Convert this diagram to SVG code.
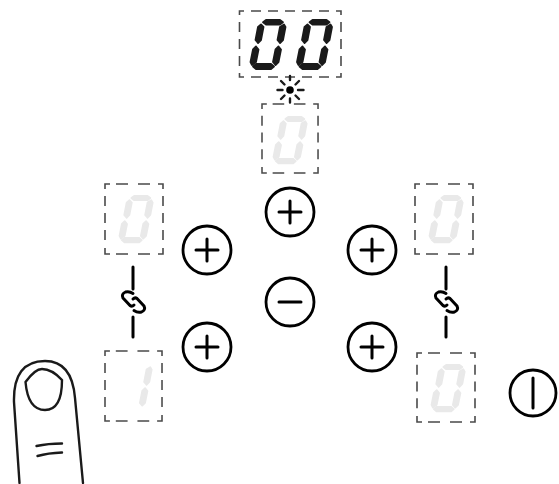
<svg xmlns="http://www.w3.org/2000/svg" xmlns:xlink="http://www.w3.org/1999/xlink" width="559" height="484" viewBox="0 0 559 484">
<style>
.box{fill:none;stroke:#4a4a4a;stroke-width:1.6}
.btn{fill:#fff;stroke:#000;stroke-width:2.8}
.sym{fill:none;stroke:#000;stroke-width:3;stroke-linecap:round}
.ink{fill:none;stroke:#1a1a1a;stroke-width:2.4;stroke-linecap:round;stroke-linejoin:round}
.chain{fill:none;stroke:#000;stroke-width:3;stroke-linecap:round;stroke-linejoin:round}
.on{fill:#1a1a1a;stroke:#1a1a1a;stroke-width:1.8;stroke-linejoin:round}
.off{fill:#e9e9e9;stroke:#e9e9e9;stroke-width:1.8;stroke-linejoin:round}
</style>
<defs>
<path id="seg-a" d="M13 3.200L16 1L30 1L33 3.200L30 5.500L16 5.500Z"/>
<path id="seg-b" d="M34 5.500L35.500 8L33 21L30 24L27.500 21L30 8Z"/>
<path id="seg-c" d="M28.500 27.500L31 30.500L28.500 43L25.500 46L23 43L25.500 30.500Z"/>
<path id="seg-d" d="M3 47.500L6 45L21 45L24 47.500L21 50L6 50Z"/>
<path id="seg-e" d="M6 27.500L8.500 30.500L6 43L2 46L.5 43L3 30.500Z"/>
<path id="seg-f" d="M11 5.500L13.500 8L11 21L8 24L5.500 21L8 8Z"/>
<g id="zero"><use xlink:href="#seg-a"/><use xlink:href="#seg-b"/><use xlink:href="#seg-c"/><use xlink:href="#seg-d"/><use xlink:href="#seg-e"/><use xlink:href="#seg-f"/></g>
<g id="one"><use xlink:href="#seg-b"/><use xlink:href="#seg-c"/></g>
<path id="frame" class="box" d="M0 5V0H5M11 0H23M33 0H45M53 0H58V5M58 12V22M58 29V39M58 46V56M58 64V70H53M45 70H33M23 70H11M5 70H0V64M0 56V46M0 39V29M0 22V12"/>
<g id="link"><path class="chain" d="M-.5 -8.500Q-4 -11 -8 -10Q-12.500 -8 -10.500 -4L-3.500 3.500Q-1.500 5 .5 3"/><path class="chain" d="M.5 8.500Q4 11 8 10Q12.500 8 10.500 4L3.500 -3.500Q1.500 -5 -.5 -3"/></g>
</defs>

<g id="connectors">
<path class="sym" d="M133 267V289M133 317V337M446 267V289M446 317V337"/>
<use xlink:href="#link" transform="translate(133.500 302)"/>
<use xlink:href="#link" transform="translate(446.500 302)"/>
</g>

<g id="display-main">
<path class="box" d="M239.500 15V11H244M251 11H261M268 11H278M285 11H295M302 11H312M319 11H329M336 11H341V15M341 22V32M341 39V49M341 56V66M341 73V77H336M329 77H319M312 77H302M295 77H285M278 77H268M261 77H251M244 77H239.500V73M239.500 66V56M239.500 49V39M239.500 32V22"/>
<use class="on" xlink:href="#zero" transform="translate(250 19)"/>
<use class="on" xlink:href="#zero" transform="translate(296.500 19)"/>
</g>
<g id="indicator">
<circle cx="290" cy="90" r="3.800" fill="#000"/>
<path class="ink" d="M290 76V80M290 98.500V102.500M277.500 90H282.500M298 90H303.500M281 81L284.500 84.500M295.500 95.500L299 99M299 81L295.500 84.500M284.500 95.500L281 99"/>
</g>
<g id="display-top">
<use xlink:href="#frame" transform="translate(262 104) scale(.966 .986)"/>
<use class="off" xlink:href="#zero" transform="translate(273 116) scale(.95)"/>
</g>
<g id="display-left-top">
<use xlink:href="#frame" transform="translate(105 184)"/>
<use class="off" xlink:href="#zero" transform="translate(119 195) scale(.95)"/>
</g>
<g id="display-right-top">
<use xlink:href="#frame" transform="translate(415 184)"/>
<use class="off" xlink:href="#zero" transform="translate(429 195) scale(.95)"/>
</g>
<g id="display-left-bottom">
<use xlink:href="#frame" transform="translate(105 351) scale(.983 1)"/>
<use class="off" xlink:href="#one" transform="translate(118 362) scale(.95)"/>
</g>
<g id="display-right-bottom">
<use xlink:href="#frame" transform="translate(417 353) scale(1 .986)"/>
<use class="off" xlink:href="#zero" transform="translate(431 364) scale(.95)"/>
</g>

<g id="btn-plus-top"><circle class="btn" cx="290" cy="212" r="24"/><path class="sym" d="M279 212H301M290 201V223"/></g>
<g id="btn-plus-left-top"><circle class="btn" cx="207" cy="250" r="24"/><path class="sym" d="M196 250H218M207 239V261"/></g>
<g id="btn-plus-left-bottom"><circle class="btn" cx="207" cy="347" r="24"/><path class="sym" d="M196 347H218M207 336V358"/></g>
<g id="btn-plus-right-top"><circle class="btn" cx="372" cy="250" r="24"/><path class="sym" d="M361 250H383M372 239V261"/></g>
<g id="btn-plus-right-bottom"><circle class="btn" cx="372" cy="347" r="24"/><path class="sym" d="M361 347H383M372 336V358"/></g>
<g id="btn-minus"><circle class="btn" cx="290" cy="302" r="24"/><path class="sym" d="M279 302H301"/></g>
<g id="btn-power"><circle class="btn" cx="533" cy="393" r="23"/><path class="sym" d="M533 378V408"/></g>

<g id="finger">
<path class="ink" d="M19.500 483L14 402Q13 361 45 361Q72 361 75 398L83 483"/>
<path class="ink" d="M25.500 382Q35 369 42 369Q52 369 62 380Q62 410 45 410Q28 410 25.500 382Z"/>
<path class="ink" d="M36.500 446Q48 443.500 62 443.500M37.500 456Q48 453 62 452.500"/>
</g>
</svg>
